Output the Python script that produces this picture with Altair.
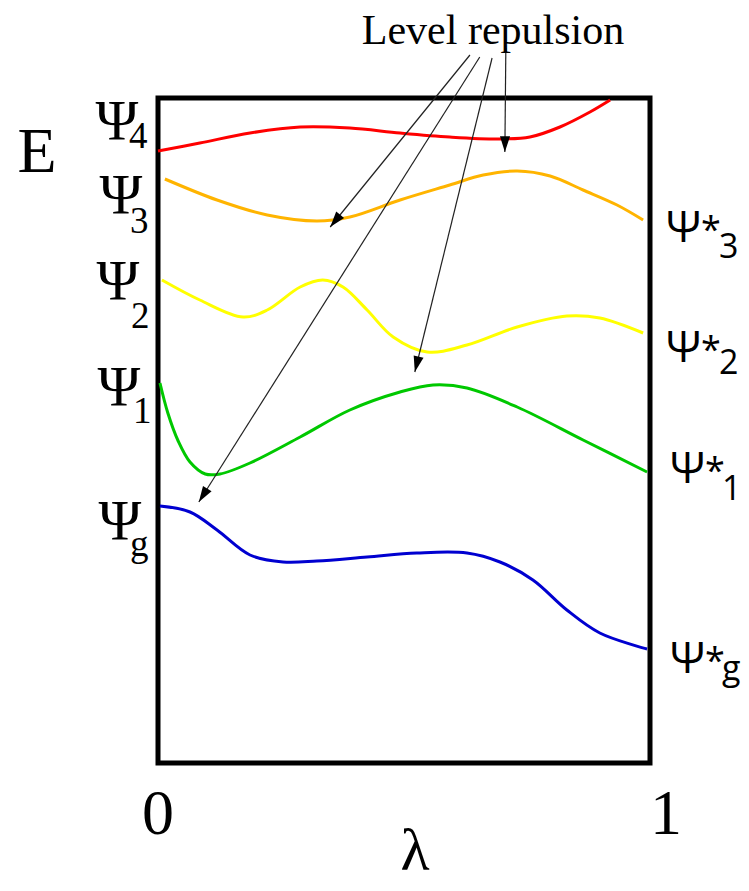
import math
import altair as alt
import pandas as pd

# ---------------- data (E in arbitrary units, 0 = bottom of box, 665 = top) -------------
lam_red = [0.0, 0.085, 0.187, 0.289, 0.390, 0.492, 0.593, 0.695, 0.756, 0.817, 0.878, 0.919]
E_red = [612, 620, 630, 636, 635, 630, 626, 624, 626, 636, 651, 663]

lam_orange = [0.014, 0.120, 0.222, 0.323, 0.390, 0.492, 0.593, 0.661, 0.730, 0.797, 0.864, 0.933, 0.986]
E_orange = [584, 563, 548, 542, 546, 563, 578, 588, 592, 587, 573, 558, 543]

lam_yellow = [0.008, 0.085, 0.173, 0.222, 0.289, 0.335, 0.376, 0.425, 0.478, 0.547, 0.628, 0.730, 0.831, 0.898, 0.986]
E_yellow = [483, 463, 446, 453, 476, 483, 476, 453, 426, 411, 418, 436, 447, 445, 430]

lam_green = [0.004, 0.020, 0.041, 0.065, 0.096, 0.126, 0.187, 0.289, 0.390, 0.492, 0.559, 0.628, 0.730, 0.864, 0.994]
E_green = [380, 350, 322, 301, 289, 289, 300, 326, 353, 371, 378, 375, 356, 323, 291]

lam_blue = [0.004, 0.065, 0.120, 0.187, 0.254, 0.323, 0.425, 0.526, 0.628, 0.695, 0.762, 0.831, 0.898, 0.994]
E_blue = [257, 251, 233, 208, 201, 202, 206, 210, 210, 201, 183, 153, 130, 114]

curve_names = ["psi4", "psi3", "psi2", "psi1", "psig"]
curve_colors = ["#ff0000", "#ffb400", "#ffff00", "#00c800", "#0000d0"]

# "Level repulsion" arrows: start and end points
arrow_lam0 = [0.634, 0.654, 0.679, 0.707]
arrow_E0 = [708, 706, 705, 715]
arrow_lam1 = [0.350, 0.083, 0.522, 0.705]
arrow_E1 = [536, 261, 391, 611]

left_main = ["Ψ", "Ψ", "Ψ", "Ψ", "Ψ"]
left_sub = ["4", "3", "2", "1", "g"]
right_main = ["Ψ*", "Ψ*", "Ψ*", "Ψ*"]
right_sub = ["3", "2", "1", "g"]
annotation = "Level repulsion"
x_ticks = ["0", "1"]
x_title = "λ"
y_title = "E"

# ---------------- layout ----------------
W, H = 492, 665
OX, OY = 158, 98  # page position of the plot origin
E_MAX = 665
SERIF = "Liberation Serif"
SANS = "Open Sans"

rows = []
for name, lams, Es in zip(curve_names,
                          [lam_red, lam_orange, lam_yellow, lam_green, lam_blue],
                          [E_red, E_orange, E_yellow, E_green, E_blue]):
    for i, (l, e) in enumerate(zip(lams, Es)):
        rows.append({"curve": name, "lam": l, "E": e, "order": i})
df = pd.DataFrame(rows)

xs = alt.Scale(domain=[0, 1])
ys = alt.Scale(domain=[0, E_MAX])

lines = alt.Chart(df).mark_line(strokeWidth=3, interpolate="catmull-rom").encode(
    x=alt.X("lam:Q", scale=xs, axis=None),
    y=alt.Y("E:Q", scale=ys, axis=None),
    color=alt.Color("curve:N", scale=alt.Scale(domain=curve_names, range=curve_colors), legend=None),
    order="order:Q",
)

arr = pd.DataFrame({"lam0": arrow_lam0, "E0": arrow_E0, "lam1": arrow_lam1, "E1": arrow_E1})
angles = []
for a in arr.itertuples():
    dx = (a.lam1 - a.lam0) * W
    dy = -(a.E1 - a.E0) * H / E_MAX
    angles.append(math.degrees(math.atan2(dx, -dy)) % 360)
arr["ang"] = angles

rules = alt.Chart(arr).mark_rule(color="#222222", strokeWidth=1.2).encode(
    x=alt.X("lam0:Q", scale=xs, axis=None),
    y=alt.Y("E0:Q", scale=ys, axis=None),
    x2="lam1:Q",
    y2="E1:Q",
)

heads = alt.Chart(arr).mark_point(
    shape="M0,0 L0.32,1 L-0.32,1 Z", filled=True, color="black", opacity=1, size=1000, strokeWidth=0
).encode(
    x=alt.X("lam1:Q", scale=xs, axis=None),
    y=alt.Y("E1:Q", scale=ys, axis=None),
    angle=alt.Angle("ang:Q", scale=None),
)


def label(txt, x, y, size, font, align="center"):
    return alt.Chart(alt.Data(values=[{"t": txt}])).mark_text(
        align=align, baseline="alphabetic", font=font, fontSize=size, color="black"
    ).encode(x=alt.value(x - OX), y=alt.value(y - OY), text="t:N")


texts = []
# left labels (serif)
left_main_x = [117, 121, 118, 119, 120]
left_main_base = [140, 214, 300, 406, 540]
left_sub_x = [129, 130, 131, 133, 130]
left_sub_base = [148, 233, 328, 423, 556]
for m, s, mx, mb, sx, sb in zip(left_main, left_sub, left_main_x, left_main_base, left_sub_x, left_sub_base):
    texts.append(label(m, mx, mb, 58, SERIF))
    texts.append(label(s, sx, sb, 37, SERIF, align="left"))

# right labels (sans): psi, star and subscript placed separately
right_main_x = [666, 666, 670, 670]
right_main_base = [242, 362, 483, 673]
right_sub_x = [719, 719, 722, 722]
right_sub_base = [258, 374, 500, 680]
for m, s, mx, mb, sx, sb in zip(right_main, right_sub, right_main_x, right_main_base, right_sub_x, right_sub_base):
    texts.append(label(m[0], mx, mb, 44, SANS, align="left"))
    texts.append(label(m[1:], mx + 35, mb, 36, SANS, align="left"))
    texts.append(label(s, sx, sb, 34, SANS, align="left"))

texts.append(label(y_title, 37, 172, 64, SERIF))
texts.append(label(x_ticks[0], 158, 834, 64, SERIF))
texts.append(label(x_ticks[1], 666, 834, 64, SERIF))
texts.append(label(x_title, 415, 870, 60, SERIF))
texts.append(label(annotation, 493, 44, 42, SERIF))

chart = alt.layer(lines, rules, heads, *texts).properties(
    width=W,
    height=H,
    padding={"left": 150, "top": 90, "right": 91, "bottom": 120},
    autosize=alt.AutoSizeParams(type="none"),
).configure_view(stroke="black", strokeWidth=5)

chart.save("out.html", embed_options={"renderer": "svg", "actions": False})
